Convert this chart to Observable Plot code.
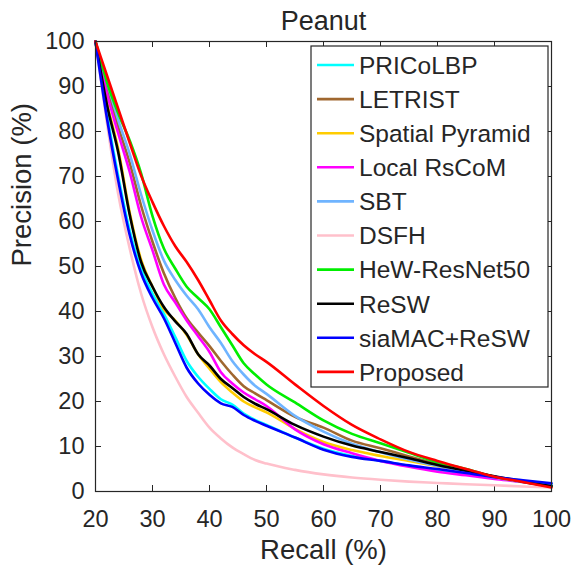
<!DOCTYPE html>
<html>
<head>
<meta charset="utf-8">
<script src="https://cdn.jsdelivr.net/npm/d3@7"></script>
<script src="https://cdn.jsdelivr.net/npm/@observablehq/plot@0.6"></script>
<style>
  html, body { margin: 0; padding: 0; background: #fff; }
</style>
</head>
<body>
<div id="chart"></div>
<script>
const titleText = "Peanut";
const xLabel = "Recall (%)";
const yLabel = "Precision (%)";
const xTicks = [20, 30, 40, 50, 60, 70, 80, 90, 100];
const yTicks = [0, 10, 20, 30, 40, 50, 60, 70, 80, 90, 100];

const recall = [20,22,24,26,28,30,32,34,36,38,40,42,44,46,48,50,55,60,65,70,75,80,85,90,95,100];

const seriesNames = ["PRICoLBP","LETRIST","Spatial Pyramid","Local RsCoM","SBT","DSFH","HeW-ResNet50","ReSW","siaMAC+ReSW","Proposed"];
const seriesColors = ["#00ffff","#a0672f","#ffcc00","#ff00ff","#6fb4ff","#ffc0cb","#00ee00","#000000","#0000ff","#ff0000"];

const pricolbp = [100,84,70,58,49.5,44,39.5,34.3,29,25.5,22.8,20.5,19.3,17.3,15.9,14.8,12,9.5,7.9,6.8,5.7,4.8,3.9,3,2.3,1.6];
const letrist  = [100,90,81,73,63.5,55.5,48.5,43,38.5,35.3,32.3,29,26,23.4,21.8,20.3,16.6,14.2,11.3,9.6,7.8,6.1,4.7,3.3,2.1,1.1];
const spatialPyramid = [100,86.5,76,62,51.5,45.5,40.5,38,34.8,30.5,27.3,24.3,22,20,18.7,17.6,13.9,11,9.2,7.9,6.8,5.6,4.4,3.2,2.1,1.2];
const localRsCoM = [100,88.5,79.5,71,61,53.6,46,42,38,34.5,31,26.5,24,22,20.5,19,13.8,10.5,8.5,6.8,5.5,4.4,3.6,2.8,2.1,1.2];
const sbt = [100,91,82.5,75,66,58,51.3,47,43.5,40.5,36.5,33,29,26,23.5,21.7,16.8,13.3,10.6,8.7,7.1,5.7,4.4,3.1,2.1,1.2];
const dsfh = [100,82,66,54,44,36.5,30.5,25.5,21,17.5,14.2,11.8,9.8,8.3,7,6.2,4.8,3.8,3.1,2.6,2.2,1.9,1.6,1.4,1.1,0.9];
const hewResNet50 = [100,91,84,78,70.7,61.2,54,49.5,45.5,43,40.5,36.5,32.5,28.5,26,23.8,19.8,15.8,12.8,10.7,8.6,6.5,5,3.3,2.3,1.1];
const resw = [100,86,75.3,61.5,51,45.5,41,37.8,35,30.5,28,25,23,21,19.5,18.3,14.8,12.2,10.2,8.8,7.4,5.9,4.6,3.4,2.2,1.2];
const siamacResw = [100,83,69,57,48.5,43,38.5,33,27.5,24,21.5,19.6,18.8,17,15.7,14.6,12,9.3,7.7,6.8,5.8,5,4.1,3.2,2.5,1.8];
const proposed = [100,92.5,85,77.5,70.2,64.3,59,54.5,51,47,42.5,38,35,32.5,30.5,28.8,23.8,19,14.8,11.6,8.8,6.8,5,3.3,2.1,0.9];

const seriesValues = [pricolbp, letrist, spatialPyramid, localRsCoM, sbt, dsfh, hewResNet50, resw, siamacResw, proposed];

const rows = [];
seriesNames.forEach((name, i) => {
  recall.forEach((r, j) => rows.push({series: name, recall: r, precision: seriesValues[i][j]}));
});

const W = 571, H = 567;
const mL = 95, mR = 20, mT = 41, mB = 76;
const fw = W - mL - mR, fh = H - mT - mB;
const ink = "#262626";
const font = "'Liberation Sans', Arial, Helvetica, sans-serif";

const plot = Plot.plot({
  width: W, height: H,
  marginLeft: mL, marginRight: mR, marginTop: mT, marginBottom: mB,
  style: {fontFamily: font, background: "#fff", color: ink, overflow: "visible"},
  x: {domain: [20, 100]},
  y: {domain: [0, 100]},
  color: {domain: seriesNames, range: seriesColors},
  marks: [
    Plot.axisX({ticks: xTicks, tickSize: 0, tickPadding: 19, fontSize: 23.5, label: null, fill: ink}),
    Plot.axisY({ticks: yTicks, tickSize: 0, tickPadding: 11, fontSize: 23.5, label: null, fill: ink}),
    Plot.tickX(xTicks, {x: d => d, insetTop: fh - 6, stroke: ink, strokeWidth: 1}),
    Plot.tickX(xTicks, {x: d => d, insetBottom: fh - 6, stroke: ink, strokeWidth: 1}),
    Plot.tickY(yTicks, {y: d => d, insetRight: fw - 6, stroke: ink, strokeWidth: 1}),
    Plot.tickY(yTicks, {y: d => d, insetLeft: fw - 6, stroke: ink, strokeWidth: 1}),
    Plot.line(rows, {x: "recall", y: "precision", z: "series", stroke: "series", strokeWidth: 2.6, curve: "monotone-x"}),
    Plot.frame({stroke: ink, strokeWidth: 1.2}),
    Plot.text([titleText], {text: d => d, frameAnchor: "top", lineAnchor: "middle", dy: -20, fontSize: 27, fill: ink}),
    Plot.text([xLabel], {text: d => d, frameAnchor: "bottom", lineAnchor: "middle", dy: 59, fontSize: 27.5, fill: ink}),
    Plot.text([yLabel], {text: d => d, frameAnchor: "left", lineAnchor: "middle", dx: -73, rotate: -90, fontSize: 27.5, fill: ink})
  ]
});

document.getElementById("chart").appendChild(plot);

// Legend inside the frame, top-right (MATLAB "northeast")
const xs = plot.scale("x"), ys = plot.scale("y");
const svgSel = d3.select(plot);
const legRight = xs.apply(100) - 3, legTop = ys.apply(100) + 5;
const legW = 237, legH = 341;
const legLeft = legRight - legW;
const g = svgSel.append("g").attr("text-anchor", "start");
g.append("rect").attr("x", legLeft).attr("y", legTop).attr("width", legW).attr("height", legH)
  .attr("fill", "#fff").attr("stroke", ink).attr("stroke-width", 1.2);
const rowH = 34.1;
seriesNames.forEach((name, i) => {
  const cy = legTop + 19 + i * rowH;
  g.append("line").attr("x1", legLeft + 6).attr("x2", legLeft + 43).attr("y1", cy).attr("y2", cy)
    .attr("stroke", seriesColors[i]).attr("stroke-width", 2.6);
  g.append("text").attr("x", legLeft + 48).attr("y", cy).attr("dy", "0.36em")
    .attr("text-anchor", "start")
    .attr("font-family", font).attr("font-size", 24.5).attr("fill", ink).text(name);
});
</script>
</body>
</html>
